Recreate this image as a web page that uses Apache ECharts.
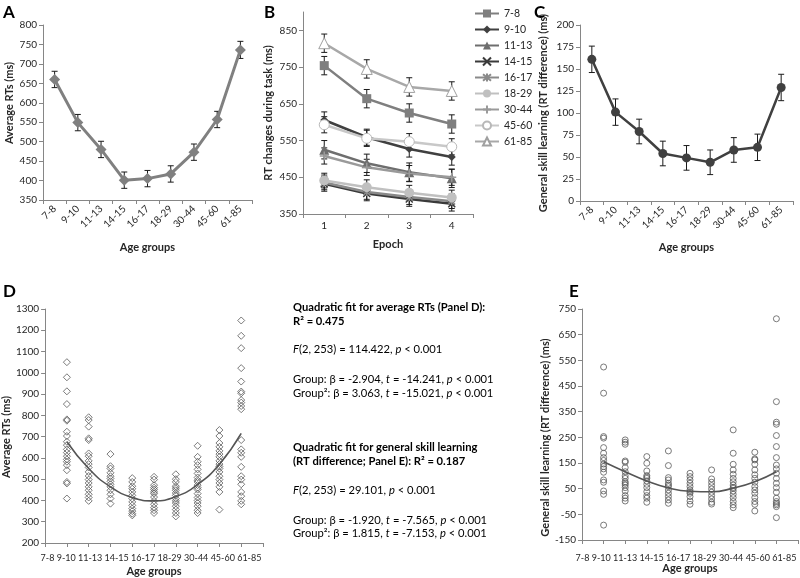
<!DOCTYPE html>
<html><head><meta charset="utf-8">
<script src="https://cdn.jsdelivr.net/npm/echarts@6/dist/echarts.min.js"></script>
<style>html,body{margin:0;padding:0;background:#fff}#c{width:800px;height:578px}</style>
</head><body><div id="c"></div>
<script>
// ---------- DATA ----------
const ageGroups = ['7-8','9-10','11-13','14-15','16-17','18-29','30-44','45-60','61-85'];
const epochs = ['1','2','3','4'];

// Panel A: average RTs
const aMeans = [660, 549, 480, 401, 405, 417, 473, 557, 736];
const aErr   = [21, 21, 21, 21, 21, 21, 21, 21, 22];

// Panel B: RT change across epochs per age group
const b_7_8   = [754, 664, 625, 595];
const b_9_10  = [606, 559, 527, 505];
const b_11_13 = [525, 488, 464, 447];
const b_14_15 = [432, 406, 391, 378];
const b_16_17 = [436, 410, 396, 385];
const b_18_29 = [441, 423, 408, 395];
const b_30_44 = [508, 477, 460, 450];
const b_45_60 = [593, 556, 547, 533];
const b_61_85 = [815, 745, 696, 685];
const bErr    = [25, 22, 25, 20, 20, 20, 22, 22, 25];

// Panel C: general skill learning
const cMeans = [161, 101, 79, 54, 49, 44, 58, 61, 129];
const cErr   = [15, 15, 14, 14, 14, 14, 14, 15, 15];

// Panel D: individual average RTs per group (group position 1..9)
const dG1 = [1050, 979, 913, 853, 781, 775, 723, 703, 676, 660, 640, 625, 608, 593, 582, 566, 542, 487, 480, 409];
const dG2 = [791, 778, 747, 692, 684, 621, 608, 586, 571, 555, 534, 515, 498, 482, 464, 448, 429, 414, 398];
const dG3 = [618, 561, 550, 530, 514, 503, 490, 476, 464, 448, 429, 409, 385];
const dG4 = [505, 487, 467, 455, 440, 424, 409, 393, 377, 362, 350, 338, 330];
const dG5 = [511, 498, 472, 460, 451, 440, 432, 416, 398, 382, 366, 354, 341];
const dG6 = [523, 500, 487, 467, 458, 448, 435, 424, 409, 398, 388, 373, 357, 341, 325];
const dG7 = [657, 605, 582, 566, 546, 527, 508, 495, 487, 472, 460, 451, 432, 414, 400, 388, 373, 354, 341];
const dG8 = [731, 703, 670, 652, 633, 618, 605, 586, 571, 560, 550, 534, 514, 498, 482, 464, 440, 357];
const dG9 = [1246, 1174, 1116, 1022, 959, 912, 904, 872, 860, 844, 829, 684, 640, 624, 605, 558, 514, 498, 476, 440, 420, 398, 382];
const dFit = [676, 550, 464, 414, 398, 418, 475, 570, 715];

// Panel E: individual general skill learning per group
const eG1 = [524, 422, 253, 247, 210, 188, 171, 160, 146, 136, 127, 114, 84, 75, 41, 28, -92];
const eG2 = [240, 231, 223, 158, 153, 132, 116, 100, 90, 77, 71, 64, 54, 41, 23, 13, 2];
const eG3 = [175, 149, 119, 101, 95, 90, 80, 67, 54, 38, 23, 13, -3];
const eG4 = [197, 140, 93, 84, 71, 64, 58, 45, 32, 19, 6, -7];
const eG5 = [110, 97, 84, 71, 58, 45, 38, 32, 19, 2, -11];
const eG6 = [123, 88, 75, 62, 49, 36, 23, 10, -3, -10];
const eG7 = [279, 188, 145, 123, 106, 90, 77, 64, 55, 51, 41, 28, 15, 0, -13, -24];
const eG8 = [192, 166, 162, 145, 123, 104, 90, 75, 58, 45, 32, 15, 0, -11, -37];
const eG9 = [712, 389, 309, 301, 257, 214, 171, 142, 127, 110, 90, 71, 54, 36, 13, 0, -7, -13, -20, -63];
const eFit = [155, 116, 80, 53, 40, 38, 52, 77, 116];
const groupPos = [1, 2, 3, 4, 5, 6, 7, 8, 9];

// ---------- BUILD ----------
const FF = 'Lato, "Liberation Sans", sans-serif';
const TXT = '#262626';
const AX = '#868686';
const labelStyle = {color: TXT, fontSize: 10, fontFamily: FF};
const nameStyle = {color: TXT, fontSize: 11, fontWeight: 'bold', fontFamily: FF};
const plainNum = v => String(v);

function pairs(groups) {
  const out = [];
  groups.forEach((g, i) => g.forEach(v => out.push([groupPos[i], v])));
  return out;
}
function errData(means, errs) {
  return means.map((m, i) => [i, m - errs[i], m + errs[i]]);
}
function errRender(params, api) {
  const x = api.value(0);
  const lo = api.coord([x, api.value(1)]);
  const hi = api.coord([x, api.value(2)]);
  const w = 3;
  const st = {stroke: '#1a1a1a', lineWidth: 1};
  return {type: 'group', children: [
    {type: 'line', shape: {x1: lo[0], y1: lo[1], x2: hi[0], y2: hi[1]}, style: st},
    {type: 'line', shape: {x1: lo[0]-w, y1: lo[1], x2: lo[0]+w, y2: lo[1]}, style: st},
    {type: 'line', shape: {x1: hi[0]-w, y1: hi[1], x2: hi[0]+w, y2: hi[1]}, style: st}
  ]};
}
function errSeries(xi, yi, means, errs) {
  return {type: 'custom', xAxisIndex: xi, yAxisIndex: yi, renderItem: errRender,
    data: errData(means, errs), encode: {x: 0, y: [1, 2]}, z: 1, silent: true};
}
function yAx(grid, min, max, interval, name, gap, pad, extraLabel) {
  return {
    type: 'value', gridIndex: grid, min, max, interval,
    name, nameLocation: 'middle', nameGap: gap, nameRotate: 90,
    nameTextStyle: Object.assign({}, nameStyle, {padding: pad}),
    axisLine: {show: true, onZero: false, lineStyle: {color: AX}},
    axisTick: {show: true, length: 4, lineStyle: {color: AX}},
    axisLabel: Object.assign({}, labelStyle, {margin: 6, formatter: plainNum}, extraLabel || {}),
    splitLine: {show: false}
  };
}
function catX(grid, data, name, gap, rotate) {
  return {
    type: 'category', gridIndex: grid, data, boundaryGap: true,
    name, nameLocation: 'middle', nameGap: gap, nameTextStyle: nameStyle,
    axisLine: {onZero: false, lineStyle: {color: AX}},
    axisTick: {show: true, length: 4, lineStyle: {color: AX}, alignWithLabel: false},
    axisLabel: Object.assign({}, labelStyle, {rotate: rotate || 0, margin: 7, interval: 0})
  };
}
function valX(grid) {
  return {
    type: 'value', gridIndex: grid, min: 0, max: 10, interval: 1,
    name: 'Age groups', nameLocation: 'middle', nameGap: 23, nameTextStyle: nameStyle,
    axisLine: {onZero: false, lineStyle: {color: AX}},
    axisTick: {show: true, length: 4, lineStyle: {color: AX}},
    axisLabel: {show: false}, splitLine: {show: false}
  };
}

const bNames = ageGroups;
const bData = [b_7_8, b_9_10, b_11_13, b_14_15, b_16_17, b_18_29, b_30_44, b_45_60, b_61_85];
const bStyle = [
  {color: '#7f7f7f', symbol: 'rect', size: 9, fill: '#7f7f7f'},
  {color: '#404040', symbol: 'diamond', size: 8, fill: '#404040'},
  {color: '#6e6e6e', symbol: 'triangle', size: 10, fill: '#6e6e6e'},
  {color: '#3a3a3a', symbol: 'path://M0,0L10,10M10,0L0,10', size: 7, fill: 'none', stroke: true},
  {color: '#8a8a8a', symbol: 'path://M0,0L10,10M10,0L0,10M5,-1L5,11', size: 8, fill: 'none', stroke: true},
  {color: '#c0c0c0', symbol: 'circle', size: 10, fill: '#c0c0c0'},
  {color: '#9a9a9a', symbol: 'path://M5,0L5,10M0,5L10,5', size: 9, fill: 'none', stroke: true},
  {color: '#c8c8c8', symbol: 'circle', size: 10, fill: '#ffffff', border: '#b8b8b8'},
  {color: '#a8a8a8', symbol: 'triangle', size: 11, fill: '#ffffff', border: '#a0a0a0'}
];

const series = [];
// A
series.push(errSeries(0, 0, aMeans, aErr));
series.push({type: 'line', name: 'A', xAxisIndex: 0, yAxisIndex: 0, data: aMeans,
  lineStyle: {color: '#808080', width: 3}, itemStyle: {color: '#808080'},
  symbol: 'diamond', symbolSize: 11, z: 3});
// B
bData.forEach((d, i) => {
  const s = bStyle[i];
  series.push({type: 'custom', xAxisIndex: 1, yAxisIndex: 1, renderItem: errRender,
    data: d.map((v, k) => [k, v - bErr[i], v + bErr[i]]), encode: {x: 0, y: [1, 2]}, z: 1, silent: true});
  series.push({type: 'line', name: bNames[i], xAxisIndex: 1, yAxisIndex: 1, data: d,
    lineStyle: {color: s.color, width: 2.5}, symbol: s.symbol, symbolSize: s.size, symbolKeepAspect: true,
    itemStyle: s.stroke ? {color: 'rgba(0,0,0,0)', borderColor: s.color, borderWidth: 1.5}
              : {color: s.fill, borderColor: s.border || s.fill, borderWidth: s.border ? 1 : 0},
    showAllSymbol: true, z: 3 + (i === 8 ? 1 : 0)});
});
// C
series.push(errSeries(2, 2, cMeans, cErr));
series.push({type: 'line', name: 'C', xAxisIndex: 2, yAxisIndex: 2, data: cMeans,
  lineStyle: {color: '#404040', width: 2.5}, itemStyle: {color: '#404040'},
  symbol: 'circle', symbolSize: 9, z: 3});
// D
series.push({type: 'scatter', name: 'D', xAxisIndex: 3, yAxisIndex: 3,
  data: pairs([dG1, dG2, dG3, dG4, dG5, dG6, dG7, dG8, dG9]),
  symbol: 'diamond', symbolSize: 7,
  itemStyle: {color: 'rgba(255,255,255,0)', borderColor: '#5a5a5a', borderWidth: 1}});
series.push({type: 'line', name: 'Dfit', xAxisIndex: 3, yAxisIndex: 3,
  data: groupPos.map((x, i) => [x, dFit[i]]), smooth: true, showSymbol: false,
  lineStyle: {color: '#555', width: 1.6}, z: 4});
// E
series.push({type: 'scatter', name: 'E', xAxisIndex: 4, yAxisIndex: 4,
  data: pairs([eG1, eG2, eG3, eG4, eG5, eG6, eG7, eG8, eG9]),
  symbol: 'circle', symbolSize: 6,
  itemStyle: {color: 'rgba(255,255,255,0)', borderColor: '#5a5a5a', borderWidth: 1}});
series.push({type: 'line', name: 'Efit', xAxisIndex: 4, yAxisIndex: 4,
  data: groupPos.map((x, i) => [x, eFit[i]]), smooth: true, showSymbol: false,
  lineStyle: {color: '#555', width: 1.6}, z: 4});

function letter(t, x, y) {
  return {type: 'text', x, y, style: {text: t, font: 'bold 17px ' + FF, fill: '#000'}};
}
// Age-group label row under panels D and E (a single text line, as in the original)
function ageRow(cx) {
  return {type: 'text', x: cx, y: 558, style: {text: ageGroups.join(' '), font: '9px ' + FF,
    fill: TXT, textAlign: 'center', verticalAlign: 'middle'}};
}
const SF = 11.2;
const statsFont = {fontSize: SF, fontFamily: FF, color: '#000'};
const rich = {
  b: Object.assign({}, statsFont, {fontWeight: 'bold'}),
  i: Object.assign({}, statsFont, {fontStyle: 'italic'}),
  n: statsFont
};
function stat(text, y) {
  return {type: 'text', x: 293, y, style: {text, rich, font: SF + 'px ' + FF, fill: '#000', verticalAlign: 'middle'}};
}

const option = {
  animation: false,
  backgroundColor: '#fff',
  textStyle: {fontFamily: FF},
  grid: [
    {left: 43, top: 25, width: 209, height: 175},
    {left: 303, top: 12, width: 170, height: 202},
    {left: 580, top: 25, width: 213, height: 176},
    {left: 43, top: 309, width: 220, height: 234},
    {left: 582, top: 309, width: 216, height: 231}
  ],
  xAxis: [
    catX(0, ageGroups, 'Age groups', 42, 45),
    catX(1, epochs, 'Epoch', 25, 0),
    catX(2, ageGroups, 'Age groups', 41, 45),
    valX(3),
    valX(4)
  ],
  yAxis: [
    yAx(0, 350, 800, 50, 'Average RTs (ms)', 28, [0, 0, 0, 19]),
    yAx(1, 350, 900, 100, 'RT changes during task (ms)', 29, [0, 0, 0, 0], {showMaxLabel: false}),
    yAx(2, 0, 200, 25, 'General skill learning (RT difference) (ms)', 31, [0, 0, 0, 0]),
    yAx(3, 200, 1300, 100, 'Average RTs (ms)', 30, [0, 22, 0, 0]),
    yAx(4, -150, 750, 100, 'General skill learning (RT difference) (ms)', 30, [0, 26, 0, 0])
  ],
  legend: {
    data: bNames, orient: 'vertical', left: 469, top: 3,
    itemWidth: 24, itemHeight: 10, itemGap: 5,
    textStyle: {color: TXT, fontSize: 10.5, fontFamily: FF}
  },
  graphic: [
    letter('A', 3, 4), letter('B', 264, 4), letter('C', 534, 4),
    letter('D', 3, 283), letter('E', 569, 283),
    ageRow(151), ageRow(686),
    stat('{b|Quadratic fit for average RTs (Panel D):}', 307),
    stat('{b|R² = 0.475}', 321),
    stat('{i|F}{n|(2, 253) = 114.422, }{i|p}{n| < 0.001}', 349),
    stat('{n|Group: β = -2.904, }{i|t}{n| = -14.241, }{i|p}{n| < 0.001}', 379),
    stat('{n|Group²: β = 3.063, }{i|t}{n| = -15.021, }{i|p}{n| < 0.001}', 393),
    stat('{b|Quadratic fit for general skill learning}', 447),
    stat('{b|(RT difference; Panel E): R² = 0.187}', 461),
    stat('{i|F}{n|(2, 253) = 29.101, }{i|p}{n| < 0.001}', 490),
    stat('{n|Group: β = -1.920, }{i|t}{n| = -7.565, }{i|p}{n| < 0.001}', 520),
    stat('{n|Group²: β = 1.815, }{i|t}{n| = -7.153, }{i|p}{n| < 0.001}', 533)
  ],
  series
};
const chart = echarts.init(document.getElementById('c'), null, {renderer: 'canvas'});
chart.setOption(option);
</script>
</body></html>
